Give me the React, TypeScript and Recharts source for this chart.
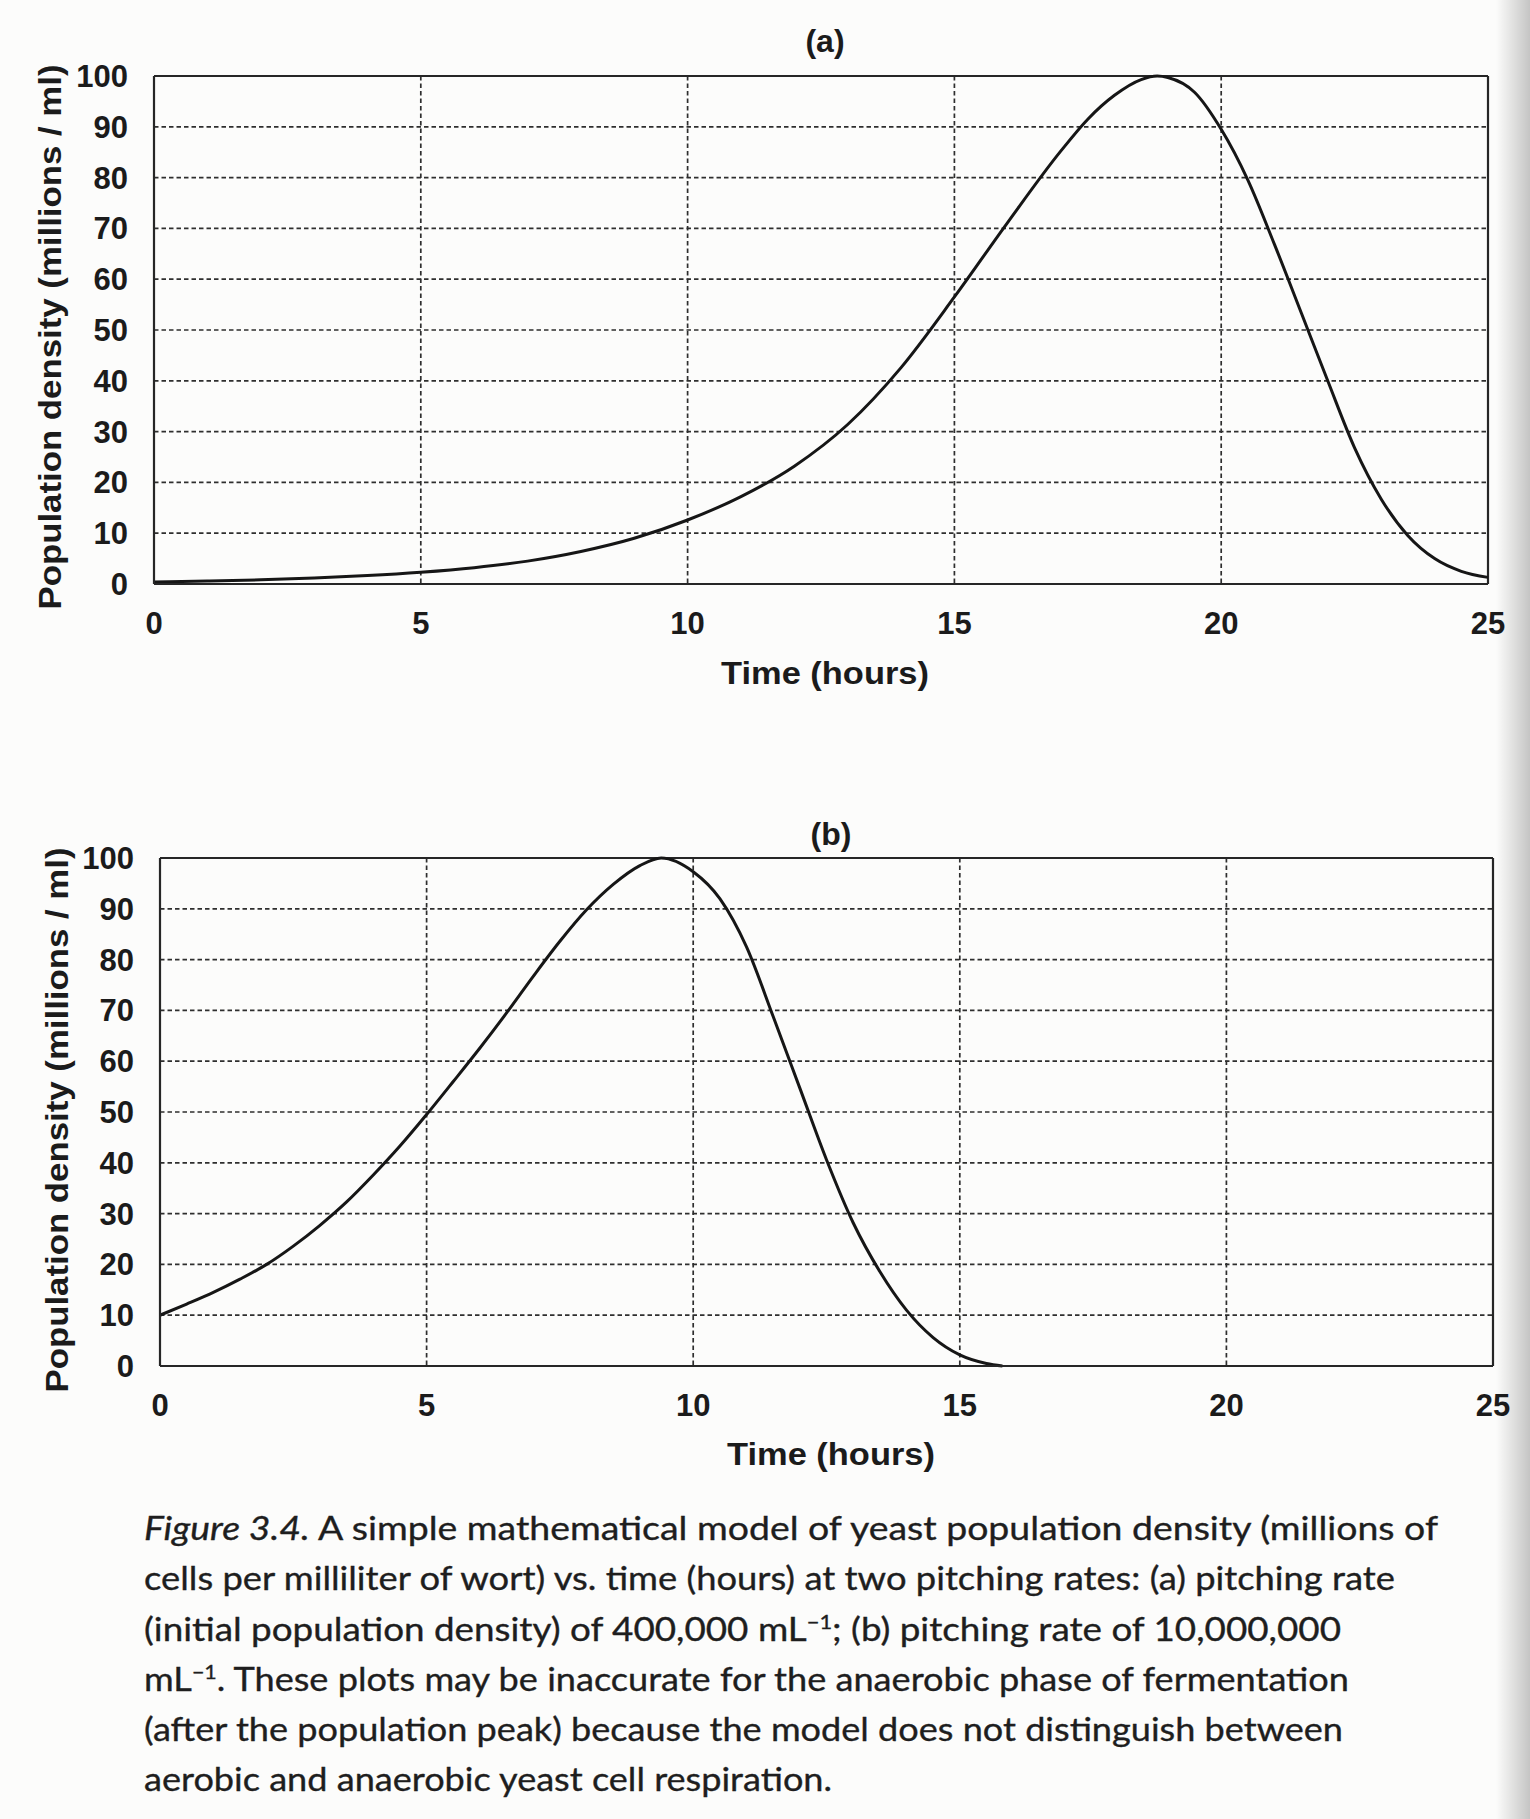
import React from 'react';
import { LineChart, Line, XAxis, YAxis, CartesianGrid, ReferenceLine } from 'recharts';

// ---- Data ----
const xTicks = [0, 5, 10, 15, 20, 25];
const yTicks = [0, 10, 20, 30, 40, 50, 60, 70, 80, 90, 100];

// (a) pitching rate 400,000 / mL
const timeA = [0, 1, 2, 3, 4, 5, 6, 7, 8, 9, 10, 11, 12, 13, 14, 15, 16, 17, 17.5, 18, 18.5, 18.8, 19, 19.5, 20, 20.5, 21, 21.5, 22, 22.5, 23, 23.5, 24, 24.5, 25];
const densityA = [0.4, 0.57, 0.82, 1.18, 1.65, 2.3, 3.2, 4.5, 6.4, 9.0, 12.6, 17.2, 23.2, 31.4, 42.6, 56.5, 71.2, 85.3, 91.5, 96.2, 99.3, 100, 99.7, 96.8, 89.5, 79.5, 66.8, 53.4, 39.9, 26.8, 16.7, 9.5, 5.0, 2.5, 1.3];

// (b) pitching rate 10,000,000 / mL
const timeB = [0, 0.5, 1, 1.5, 2, 2.5, 3, 3.5, 4, 4.5, 5, 5.5, 6, 6.5, 7, 7.5, 8, 8.5, 9, 9.4, 10, 10.5, 11, 11.5, 12, 12.5, 13, 13.5, 14, 14.5, 15, 15.5, 15.8];
const densityB = [10, 12.2, 14.5, 17.1, 20.0, 23.6, 27.7, 32.3, 37.6, 43.3, 49.5, 56.0, 62.6, 69.5, 76.7, 83.6, 89.8, 94.8, 98.5, 100, 97.3, 92.0, 82.5, 68.8, 54.7, 40.6, 28.2, 18.6, 11.0, 5.6, 2.2, 0.5, 0];

const titles = ['(a)', '(b)'];
const xLabel = 'Time (hours)';
const yLabel = 'Population density (millions / ml)';

const dataA = timeA.map((t, i) => ({ t, v: densityA[i] }));
const dataB = timeB.map((t, i) => ({ t, v: densityB[i] }));

const INK = '#1b1b1b';
const FONT = '"Liberation Sans", Arial, Helvetica, sans-serif';
const tickStyle = { fill: INK, fontSize: 31, fontWeight: 700, fontFamily: FONT };
const axisLineStyle = { stroke: '#262626', strokeWidth: 2.2 };

type PanelProps = {
  data: { t: number; v: number }[];
  top: number;
  mTop: number;
  yW: number;
  mRight: number;
  xH: number;
};

const Panel = ({ data, top, mTop, yW, mRight, xH }: PanelProps) => (
  <div style={{ position: 'absolute', left: 0, top }}>
    <LineChart width={1530} height={680} data={data} margin={{ top: mTop, right: mRight, left: 0, bottom: 0 }}>
      <CartesianGrid stroke="#2e2e2e" strokeDasharray="4.5 3" strokeWidth={1.7} />
      <XAxis
        type="number"
        dataKey="t"
        domain={[0, 25]}
        ticks={xTicks}
        interval={0}
        height={xH}
        tickSize={0}
        tickMargin={28}
        tickLine={false}
        axisLine={axisLineStyle}
        tick={tickStyle}
      />
      <YAxis
        type="number"
        domain={[0, 100]}
        ticks={yTicks}
        interval={0}
        width={yW}
        tickSize={0}
        tickMargin={26}
        tickLine={false}
        axisLine={axisLineStyle}
        tick={tickStyle}
      />
      <ReferenceLine y={100} stroke="#262626" strokeWidth={2.2} />
      <ReferenceLine x={25} stroke="#262626" strokeWidth={2.2} />
      <Line
        type="monotone"
        dataKey="v"
        stroke="#161616"
        strokeWidth={3}
        dot={false}
        activeDot={false}
        isAnimationActive={false}
      />
    </LineChart>
  </div>
);

const CAP_FONT = 'Lato, "Open Sans", sans-serif';

const App = () => (
  <div style={{ position: 'absolute', left: 0, top: 0, width: 1530, height: 1819, background: '#fcfcfb', overflow: 'hidden' }}>
    <Panel data={dataA} top={0} mTop={76} yW={154} mRight={42} xH={96} />
    <Panel data={dataB} top={780} mTop={78} yW={160} mRight={37} xH={94} />
    <svg width={1530} height={1819} style={{ position: 'absolute', left: 0, top: 0, pointerEvents: 'none' }}>
      <g fill={INK} fontFamily={FONT} fontWeight={700}>
        <text x={825} y={52} fontSize={32} textAnchor="middle">{titles[0]}</text>
        <text x={831} y={845} fontSize={32} textAnchor="middle">{titles[1]}</text>
        <text x={825} y={684} fontSize={32} textAnchor="middle" textLength={208} lengthAdjust="spacingAndGlyphs">{xLabel}</text>
        <text x={831} y={1465} fontSize={32} textAnchor="middle" textLength={208} lengthAdjust="spacingAndGlyphs">{xLabel}</text>
        <text transform="translate(50,337) rotate(-90)" fontSize={32} textAnchor="middle" dominantBaseline="central" textLength={545} lengthAdjust="spacingAndGlyphs">{yLabel}</text>
        <text transform="translate(57,1120) rotate(-90)" fontSize={32} textAnchor="middle" dominantBaseline="central" textLength={545} lengthAdjust="spacingAndGlyphs">{yLabel}</text>
      </g>
      <g fill="#1e1e1e" stroke="#1e1e1e" strokeWidth={0.35} fontFamily={CAP_FONT} fontSize={32} style={{ whiteSpace: 'pre' }}>
        <text x={144} y={1540} textLength={1294} lengthAdjust="spacingAndGlyphs">
          <tspan fontStyle="italic">Figure 3.4.</tspan>
          <tspan>{'  A simple mathematical model of yeast population density (millions of'}</tspan>
        </text>
        <text x={144} y={1590} textLength={1251} lengthAdjust="spacingAndGlyphs">
          {'cells per milliliter of wort) vs. time (hours) at two pitching rates: (a) pitching rate'}
        </text>
        <text x={144} y={1641} textLength={1197} lengthAdjust="spacingAndGlyphs">
          <tspan>{'(initial population density) of 400,000 mL'}</tspan>
          <tspan dy={-12} fontSize={19}>{'\u22121'}</tspan>
          <tspan dy={12}>{'; (b) pitching rate of 10,000,000'}</tspan>
        </text>
        <text x={144} y={1691} textLength={1205} lengthAdjust="spacingAndGlyphs">
          <tspan>{'mL'}</tspan>
          <tspan dy={-12} fontSize={19}>{'\u22121'}</tspan>
          <tspan dy={12}>{'. These plots may be inaccurate for the anaerobic phase of fermentation'}</tspan>
        </text>
        <text x={144} y={1741} textLength={1199} lengthAdjust="spacingAndGlyphs">
          {'(after the population peak) because the model does not distinguish between'}
        </text>
        <text x={144} y={1791} textLength={688} lengthAdjust="spacingAndGlyphs">
          {'aerobic and anaerobic yeast cell respiration.'}
        </text>
      </g>
    </svg>
    <div style={{ position: 'absolute', left: 1496, top: 0, width: 34, height: 1819, background: 'linear-gradient(to right, rgba(0,0,0,0), rgba(0,0,0,0.22))', pointerEvents: 'none' }} />
  </div>
);

export default App;
